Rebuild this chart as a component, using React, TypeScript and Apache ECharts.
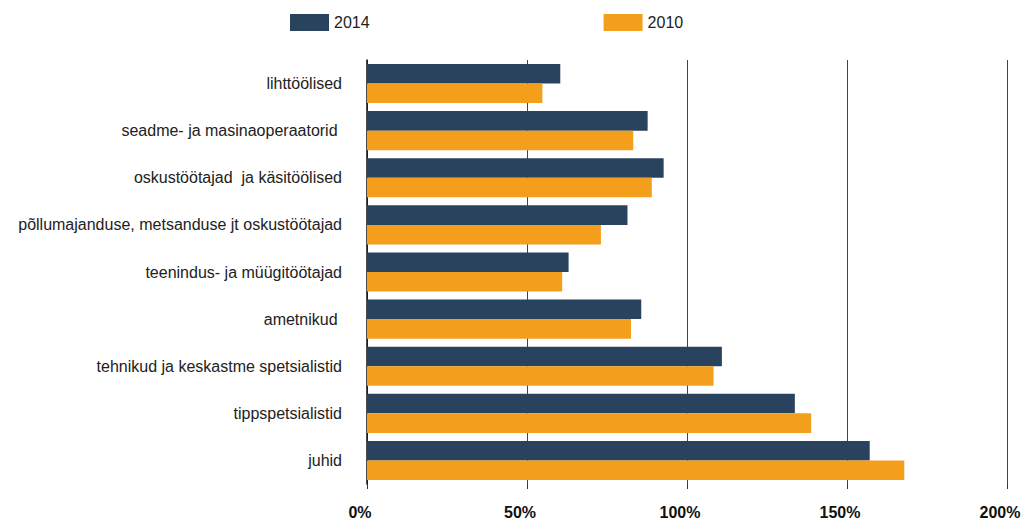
import React, { useEffect, useRef } from "react";
import * as echarts from "echarts";

const categories = [
  "lihttöölised",
  "seadme- ja masinaoperaatorid ",
  "oskustöötajad  ja käsitöölised",
  "põllumajanduse, metsanduse jt oskustöötajad",
  "teenindus- ja müügitöötajad",
  "ametnikud ",
  "tehnikud ja keskastme spetsialistid",
  "tippspetsialistid",
  "juhid",
];
const values2014 = [60.4, 87.7, 92.7, 81.4, 63.0, 85.7, 110.9, 133.7, 157.1];
const values2010 = [54.8, 83.2, 89.0, 73.1, 61.0, 82.5, 108.3, 138.8, 167.9];
const xTicks = [0, 50, 100, 150, 200];

const FONT = "'Liberation Sans', Arial, Helvetica, sans-serif";

export default function App() {
  const ref = useRef<HTMLDivElement>(null);
  useEffect(() => {
    if (!ref.current) return;
    const chart = echarts.init(ref.current, undefined, { renderer: "svg" });
    chart.setOption({
      animation: false,
      textStyle: { fontFamily: FONT },
      legend: {
        left: 290,
        top: 14,
        padding: 0,
        itemWidth: 39,
        itemHeight: 17,
        itemGap: 234,
        icon: "rect",
        textStyle: { fontSize: 16, color: "#222", fontFamily: FONT },
        data: ["2014", "2010"],
      },
      grid: { left: 367, right: 17, top: 60, bottom: 36, containLabel: false },
      xAxis: {
        type: "value",
        min: xTicks[0],
        max: xTicks[xTicks.length - 1],
        interval: 50,
        axisLine: { show: false },
        axisTick: { show: true, length: 5, lineStyle: { color: "#333", width: 1 } },
        splitLine: { show: true, lineStyle: { color: "#444", width: 1 } },
        axisLabel: {
          formatter: (v: number) => `${v}%`,
          fontSize: 16,
          fontWeight: "bold",
          color: "#111",
          margin: 20,
          padding: [0, 14, 0, 0],
          fontFamily: FONT,
        },
      },
      yAxis: {
        type: "category",
        inverse: true,
        data: categories,
        axisLine: { show: true, lineStyle: { color: "#111", width: 1.5 } },
        axisTick: { show: false },
        axisLabel: { fontSize: 16, color: "#222", margin: 25, fontFamily: FONT },
      },
      series: [
        {
          name: "2014",
          type: "bar",
          data: values2014,
          itemStyle: { color: "#29435F" },
          barGap: "0%",
          barCategoryGap: "17%",
        },
        {
          name: "2010",
          type: "bar",
          data: values2010,
          itemStyle: { color: "#F49F1C" },
          barGap: "0%",
          barCategoryGap: "17%",
        },
      ],
    });
    return () => chart.dispose();
  }, []);
  return (
    <div
      ref={ref}
      style={{ position: "fixed", left: 0, top: 0, width: 1024, height: 520, background: "#fff" }}
    />
  );
}
